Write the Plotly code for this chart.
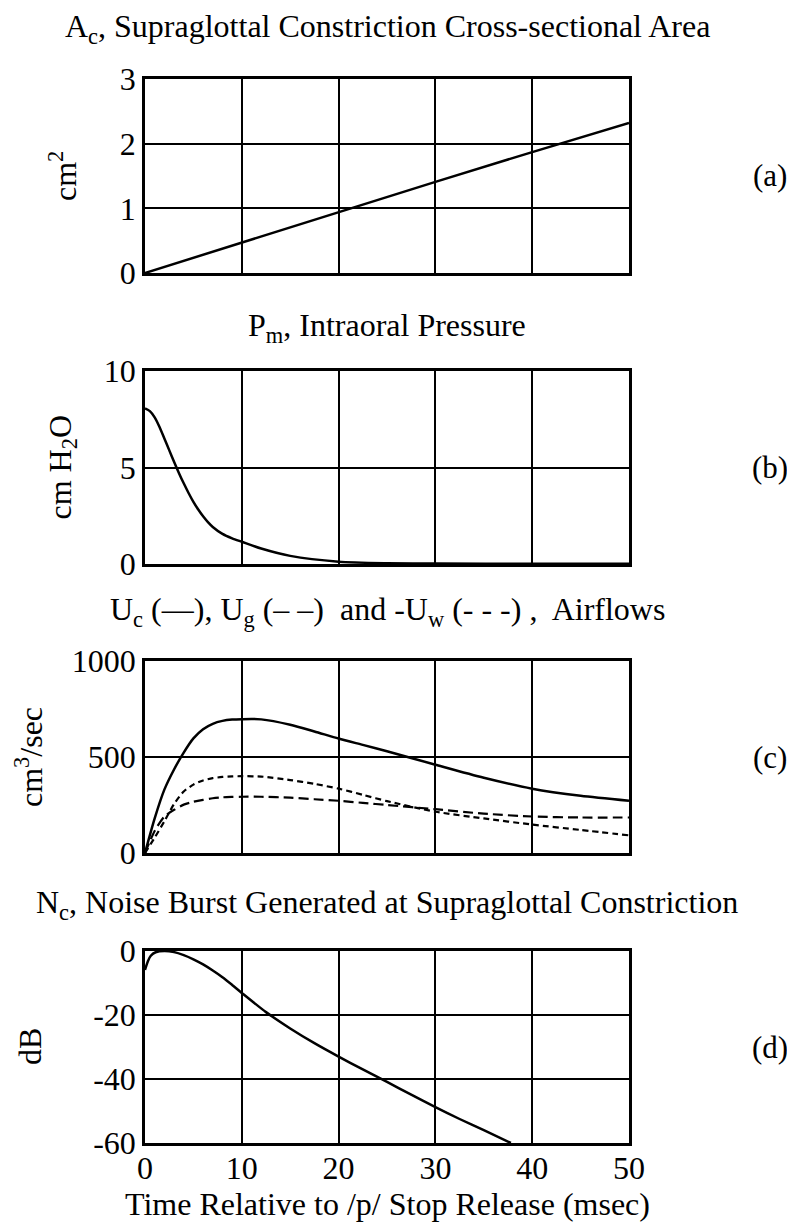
import plotly.graph_objects as go

# (a) supraglottal constriction area, cm^2
t_a = [0, 10, 20, 30, 40, 50]
area = [0, 0.47, 0.95, 1.41, 1.87, 2.32]

# (b) intraoral pressure, cm H2O
t_b = [0, 0.5, 1, 1.5, 2, 2.5, 3, 3.5, 4, 4.5, 5, 5.5, 6, 6.5, 7, 8, 9, 10, 12, 15, 20, 25, 30, 40, 50]
pm = [8.06, 7.92, 7.6, 7.1, 6.5, 5.9, 5.3, 4.72, 4.18, 3.68, 3.22, 2.82, 2.47, 2.17, 1.92, 1.56,
      1.33, 1.15, 0.8, 0.42, 0.12, 0.04, 0.02, 0.01, 0.01]

# (c) airflows, cm^3/sec
t_c = [0, 1, 2, 3, 4, 5, 6, 7, 8, 9, 10, 12, 15, 17.5, 20, 22.5, 25, 30, 35, 40, 45, 50]
uc = [0, 180, 330, 435, 523, 597, 645, 673, 688, 695, 697, 696, 668, 633, 596, 563, 530, 460, 392,
      335, 298, 272]
ug = [0, 115, 190, 225, 252, 267, 277, 285, 290, 292, 293, 293, 288, 280, 272, 261, 250, 228, 205,
      190, 185, 185]
uw = [0, 80, 165, 255, 320, 356, 378, 390, 396, 399, 400, 398, 380, 360, 335, 303, 270, 215, 180,
      148, 120, 92]

# (d) noise burst, dB
t_d = [0, 0.3, 0.6, 1.1, 2, 3, 4, 5, 6, 7, 8, 9, 10, 12.5, 15, 17.5, 20, 22.5, 25, 27.5, 30, 32.5,
       35, 37.8]
nc = [-5.9, -3.2, -1.5, -0.4, 0, -0.35, -1.3, -2.6, -4.2, -6.1, -8.2, -10.6, -13.1, -19.1, -24.2,
      -28.8, -33.0, -37.0, -40.9, -44.9, -48.8, -52.5, -56.0, -60]

# tick labels
x_ticks = [0, 10, 20, 30, 40, 50]
y_ticks = [[0, 1, 2, 3], [0, 5, 10], [0, 500, 1000], [-60, -40, -20, 0]]
y_ticktext = [["0", "1", "2", "3"], ["0", "5", "10"], ["0", "500", "1000"], ["-60", "-40", "-20", "0"]]

FONT = "Liberation Serif, Times New Roman, serif"
OFF = 8                      # browser body margin
W, H = 795 - OFF, 1230 - 2 * OFF
def px(x): return (x - OFF) / W
def py(y): return 1 - (y - OFF) / H

X0, X1 = 145, 629
panels = [(79, 273), (371, 564), (661, 853), (951, 1143)]   # top/bottom px
yranges = [[0, 3], [0, 10], [0, 1000], [-60, 0]]
ytitles = ["cm<sup>2</sup>", "cm H<sub>2</sub>O", "cm<sup>3</sup>/sec", "dB"]
ytitle_x = [63, 62, 29, 30]
titles = ["A<sub>c</sub>, Supraglottal Constriction Cross-sectional Area",
          "P<sub>m</sub>, Intraoral Pressure",
          "U<sub>c</sub> (—), U<sub>g</sub> (– –)  and -U<sub>w</sub> (- - -) ,  Airflows",
          "N<sub>c</sub>, Noise Burst Generated at Supraglottal Constriction"]
title_y = [28, 328, 612, 904]
labels = ["(a)", "(b)", "(c)", "(d)"]

line = dict(color="black", width=2.5)
smooth = dict(shape="spline", smoothing=0.7)
fig = go.Figure()
fig.add_trace(go.Scatter(x=t_a, y=area, mode="lines", line=line, xaxis="x", yaxis="y"))
fig.add_trace(go.Scatter(x=t_b, y=pm, mode="lines", line=dict(line, **smooth),
                         xaxis="x2", yaxis="y2"))
fig.add_trace(go.Scatter(x=t_c, y=uc, mode="lines", line=dict(line, **smooth),
                         xaxis="x3", yaxis="y3"))
fig.add_trace(go.Scatter(x=t_c, y=ug, mode="lines",
                         line=dict(color="black", width=2.2, dash="10px,5px", **smooth),
                         xaxis="x3", yaxis="y3"))
fig.add_trace(go.Scatter(x=t_c, y=uw, mode="lines",
                         line=dict(color="black", width=2.2, dash="6px,4px", **smooth),
                         xaxis="x3", yaxis="y3"))
fig.add_trace(go.Scatter(x=t_d, y=nc, mode="lines", line=dict(line, **smooth),
                         xaxis="x4", yaxis="y4"))

layout = dict(width=W, height=H, margin=dict(l=0, r=0, t=0, b=0),
              paper_bgcolor="white", plot_bgcolor="white", showlegend=False,
              font=dict(family=FONT, size=32, color="black"))
ann = []
for i, (top, bot) in enumerate(panels):
    n = "" if i == 0 else str(i + 1)
    dom_y = [py(bot), py(top)]
    layout["xaxis" + n] = dict(domain=[px(X0), px(X1)], range=[0, 50], tickvals=x_ticks,
                               anchor="y" + n, showgrid=True, gridcolor="black", gridwidth=2,
                               showline=True, mirror=True, linecolor="black", linewidth=2.5,
                               zeroline=False, showticklabels=(i == 3), ticks="",
                               tickfont=dict(size=32), ticklabelstandoff=-5, automargin=False)
    layout["yaxis" + n] = dict(domain=dom_y, range=yranges[i], tickvals=y_ticks[i],
                               ticktext=y_ticktext[i],
                               anchor="x" + n, showgrid=True, gridcolor="black", gridwidth=2,
                               showline=True, mirror=True, linecolor="black", linewidth=2.5,
                               zeroline=False, ticks="", tickfont=dict(size=32),
                               ticklabelstandoff=0, automargin=False)
    ann.append(dict(text=titles[i], x=px((X0 + X1) / 2), y=py(title_y[i]), xref="paper", yref="paper",
                    xanchor="center", yanchor="middle", showarrow=False, font=dict(size=32)))
    ann.append(dict(text=ytitles[i], x=px(ytitle_x[i]), y=sum(dom_y) / 2, xref="paper", yref="paper",
                    xanchor="center", yanchor="middle", textangle=-90, showarrow=False,
                    font=dict(size=32)))
    ann.append(dict(text=labels[i], x=px(770), y=sum(dom_y) / 2, xref="paper", yref="paper",
                    xanchor="center", yanchor="middle", showarrow=False, font=dict(size=31)))
ann.append(dict(text="Time Relative to /p/ Stop Release (msec)", x=px((X0 + X1) / 2), y=py(1204),
                xref="paper", yref="paper", xanchor="center", yanchor="middle",
                showarrow=False, font=dict(size=32)))
layout["annotations"] = ann
fig.update_layout(**layout)

fig.write_html("out.html")
